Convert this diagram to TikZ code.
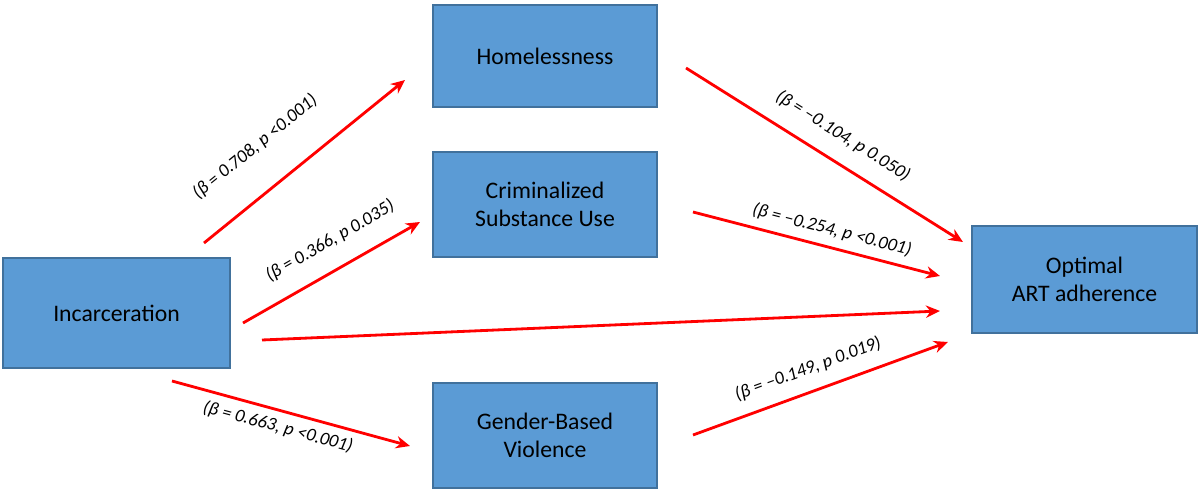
\documentclass[tikz,border=0pt]{standalone}
\usepackage{fontspec}
\setmainfont{Carlito}
\usetikzlibrary{arrows.meta}
\definecolor{boxfill}{HTML}{5B9BD5}
\definecolor{boxline}{HTML}{41719C}
\begin{document}
\begin{tikzpicture}[x=0.02cm,y=-0.02cm,
  box/.style={draw=boxline,line width=0.8pt,fill=boxfill,align=center,font=\fontsize{13.5}{16}\selectfont},
  arr/.style={draw=red,line width=1.6pt,-{Stealth[length=8pt,width=7pt]}},
  lab/.style={font=\itshape\fontsize{10.5}{12}\selectfont}]
\useasboundingbox (0,0) rectangle (1200,493);
\node[box,minimum width=227*0.02cm,minimum height=110*0.02cm] (inc) at (116.5,313) {Incarceration};
\node[box,minimum width=224*0.02cm,minimum height=102*0.02cm] (hom) at (545,56) {Homelessness};
\node[box,minimum width=224*0.02cm,minimum height=105*0.02cm] (cri) at (545,204.5) {Criminalized\\Substance Use};
\node[box,minimum width=224*0.02cm,minimum height=105*0.02cm] (gbv) at (545,435.5) {Gender-Based\\Violence};
\node[box,minimum width=225*0.02cm,minimum height=107*0.02cm] (art) at (1084.5,279.5) {Optimal\\ART adherence};
\coordinate (a1) at (204,243); \coordinate (b1) at (405,80);
\coordinate (a2) at (243,323); \coordinate (b2) at (420,222);
\coordinate (a3) at (262,340); \coordinate (b3) at (940,311);
\coordinate (a4) at (172,381); \coordinate (b4) at (410,446);
\coordinate (a5) at (686,68);  \coordinate (b5) at (963,242);
\coordinate (a6) at (693,212); \coordinate (b6) at (940,276);
\coordinate (a7) at (693,435); \coordinate (b7) at (948,342);
\draw[arr] (a1) -- (b1);
\draw[arr] (a2) -- (b2);
\draw[arr] (a3) -- (b3);
\draw[arr] (a4) -- (b4);
\draw[arr] (a5) -- (b5);
\draw[arr] (a6) -- (b6);
\draw[arr] (a7) -- (b7);
\node[lab,rotate=39] (l1) at (255,147) {(β = 0.708, \textit{p} <0.001)};
\node[lab,rotate=30] (l2) at (330,241) {(β = 0.366, \textit{p} 0.035)};
\node[lab,rotate=-15] (l4) at (278,427) {(β = 0.663, \textit{p} <0.001)};
\node[lab,rotate=-32] (l5) at (843,136) {(β = –0.104, \textit{p} 0.050)};
\node[lab,rotate=-14.5] (l6) at (832,230) {(β = –0.254, \textit{p} <0.001)};
\node[lab,rotate=20] (l7) at (808,369) {(β = –0.149, \textit{p} 0.019)};
\end{tikzpicture}
\end{document}
